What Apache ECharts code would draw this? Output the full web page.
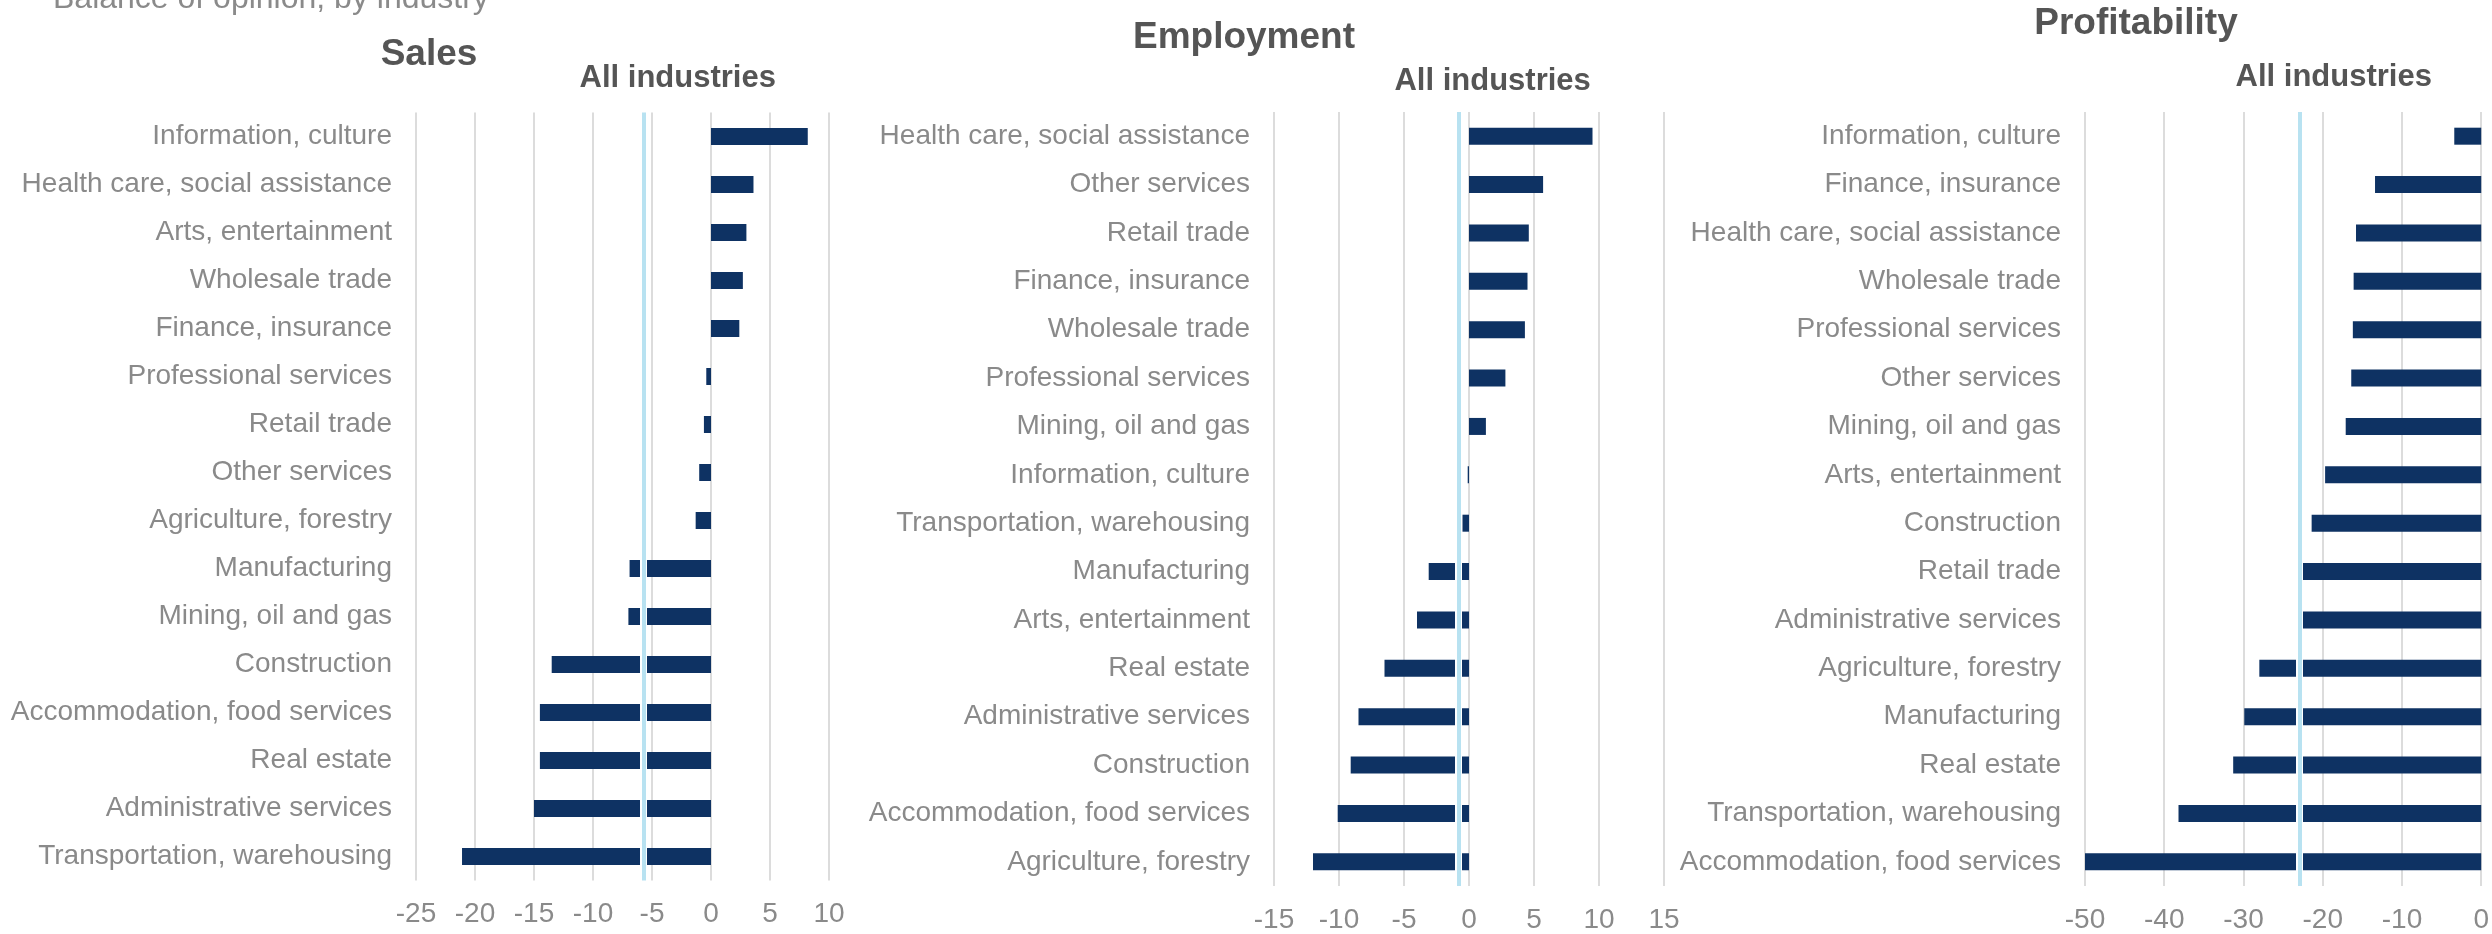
<!DOCTYPE html>
<html>
<head>
<meta charset="utf-8">
<script src="https://cdn.jsdelivr.net/npm/echarts@6/dist/echarts.min.js"></script>
<style>
  html, body { margin: 0; padding: 0; background: #fff; }
  #main { width: 2492px; height: 934px; }
</style>
</head>
<body>
<div id="main"></div>
<script>
// balance of opinion, by industry
var salesCategories = ['Information, culture', 'Health care, social assistance', 'Arts, entertainment',
    'Wholesale trade', 'Finance, insurance', 'Professional services', 'Retail trade', 'Other services',
    'Agriculture, forestry', 'Manufacturing', 'Mining, oil and gas', 'Construction',
    'Accommodation, food services', 'Real estate', 'Administrative services', 'Transportation, warehousing'];
var salesValues = [8.2, 3.6, 3.0, 2.7, 2.4, -0.4, -0.6, -1.0, -1.3, -6.9, -7.0, -13.5, -14.5, -14.5, -15.0, -21.1];
var salesAll = -5.7;

var employmentCategories = ['Health care, social assistance', 'Other services', 'Retail trade',
    'Finance, insurance', 'Wholesale trade', 'Professional services', 'Mining, oil and gas',
    'Information, culture', 'Transportation, warehousing', 'Manufacturing', 'Arts, entertainment',
    'Real estate', 'Administrative services', 'Construction', 'Accommodation, food services',
    'Agriculture, forestry'];
var employmentValues = [9.5, 5.7, 4.6, 4.5, 4.3, 2.8, 1.3, -0.1, -0.5, -3.1, -4.0, -6.5, -8.5, -9.1, -10.1, -12.0];
var employmentAll = -0.8;

var profitCategories = ['Information, culture', 'Finance, insurance', 'Health care, social assistance',
    'Wholesale trade', 'Professional services', 'Other services', 'Mining, oil and gas',
    'Arts, entertainment', 'Construction', 'Retail trade', 'Administrative services',
    'Agriculture, forestry', 'Manufacturing', 'Real estate', 'Transportation, warehousing',
    'Accommodation, food services'];
var profitValues = [-3.4, -13.4, -15.8, -16.1, -16.2, -16.4, -17.1, -19.7, -21.4, -22.5, -22.7, -28.0, -29.9, -31.3, -38.2, -50.0];
var profitAll = -22.9;

// axis ranges: [min, max, interval]
var salesTicks = [-25, 10, 5];
var employmentTicks = [-15, 15, 5];
var profitTicks = [-50, 0, 10];

var panelTitles = ['Sales', 'Employment', 'Profitability'];
var allLabel = 'All industries';

var FONT = '"Liberation Sans", Arial, sans-serif';
var BAR = '#0e3263';
var LINE = '#b8e2f1';
var GREY = '#8a8a8a';
var DARK = '#555555';

var grids = [
    {left: 416, top: 112.5, width: 413, height: 768},
    {left: 1274, top: 112, width: 390, height: 777},
    {left: 2085, top: 112, width: 398, height: 777}
];

function xAxisFor(idx, ticks) {
    return {
        type: 'value', gridIndex: idx,
        min: ticks[0], max: ticks[1], interval: ticks[2],
        axisLine: {show: false}, axisTick: {show: false},
        axisLabel: {color: GREY, fontSize: 28, fontFamily: FONT, margin: 20},
        splitLine: {show: true, lineStyle: {color: '#dcdcdc', width: 2}}
    };
}

function yAxisFor(idx, cats) {
    return {
        type: 'category', gridIndex: idx, data: cats, inverse: true,
        axisLine: {show: false}, axisTick: {show: false},
        axisLabel: {color: GREY, fontSize: 28, fontFamily: FONT, margin: 24},
        splitLine: {show: false}
    };
}

function barSeries(idx, values, all) {
    return {
        type: 'bar', xAxisIndex: idx, yAxisIndex: idx,
        data: values, barWidth: 17,
        itemStyle: {color: BAR},
        markLine: {
            silent: true, symbol: 'none', animation: false,
            label: {show: false},
            data: [
                {xAxis: all, lineStyle: {color: '#ffffff', width: 7, type: 'solid'}},
                {xAxis: all, lineStyle: {color: LINE, width: 4, type: 'solid'}}
            ]
        }
    };
}

var chart = echarts.init(document.getElementById('main'));
chart.setOption({
    animation: false,
    grid: grids,
    xAxis: [xAxisFor(0, salesTicks), xAxisFor(1, employmentTicks), xAxisFor(2, profitTicks)],
    yAxis: [yAxisFor(0, salesCategories), yAxisFor(1, employmentCategories), yAxisFor(2, profitCategories)],
    series: [
        barSeries(0, salesValues, salesAll),
        barSeries(1, employmentValues, employmentAll),
        barSeries(2, profitValues, profitAll)
    ]
});

// headings, plus "All industries" next to each average line
var titlePos = [[429, 55], [1244, 38], [2136, 24]];
var allY = [78, 81, 77];
var allValues = [salesAll, employmentAll, profitAll];
var graphics = [{
    type: 'text', x: 53, y: -1,
    style: {text: 'Balance of opinion, by industry', fill: GREY, font: '32px ' + FONT, textVerticalAlign: 'middle'}
}];
panelTitles.forEach(function (t, i) {
    graphics.push({
        type: 'text', x: titlePos[i][0], y: titlePos[i][1],
        style: {text: t, fill: DARK, font: 'bold 37px ' + FONT, textAlign: 'center', textVerticalAlign: 'middle'}
    });
    var px = chart.convertToPixel({xAxisIndex: i}, allValues[i]);
    graphics.push({
        type: 'text', x: px + 34, y: allY[i],
        style: {text: allLabel, fill: DARK, font: 'bold 31px ' + FONT, textAlign: 'center', textVerticalAlign: 'middle'}
    });
});
chart.setOption({graphic: graphics});
</script>
</body>
</html>
